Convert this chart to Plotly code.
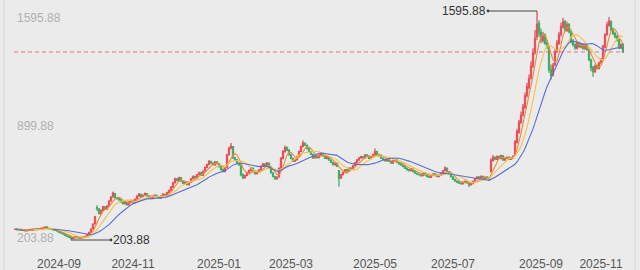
import pandas as pd
import plotly.graph_objects as go

# ---------------- data ----------------
closed_days = ['2024-09-16', '2024-09-17', '2024-10-01', '2024-10-02', '2024-10-03', '2024-10-04', '2024-10-07',
               '2025-01-01', '2025-01-28', '2025-01-29', '2025-01-30', '2025-01-31', '2025-02-03', '2025-02-04',
               '2025-04-04', '2025-05-01', '2025-05-02', '2025-05-05', '2025-06-02',
               '2025-10-01', '2025-10-02', '2025-10-03', '2025-10-06', '2025-10-07', '2025-10-08',
               '2025-10-09', '2025-10-10', '2025-10-13', '2025-10-14', '2025-10-15', '2025-10-16',
               '2025-10-17', '2025-10-20', '2025-10-21']
first_day = '2024-08-01'
last_day = '2025-11-18'

close = [
    270, 266, 268, 262, 265, 260, 263, 267, 264, 270, 268, 272, 269, 274, 278, 282, 276, 272, 268, 265, 262, 258,
    250, 246, 240, 232, 226, 220, 214, 218, 222, 219, 216, 220, 223, 226, 236, 250, 270, 300, 345,
    395, 365, 385, 405, 392, 410, 440, 465, 488, 462, 455, 448, 435, 425, 432, 418, 436, 442,
    430, 452, 470, 482, 466, 475, 486, 472, 460, 456, 470, 476, 466, 460, 470, 482, 476, 492, 505, 525, 550,
    575, 566, 582, 562, 548, 552, 540, 556, 575, 590, 582, 600, 612, 598, 622, 645, 662, 680, 672, 662, 678, 668,
    650, 632, 620, 640, 722, 760, 775, 702, 690, 672, 660, 600, 582, 596, 612, 625, 640, 622,
    606, 616, 630, 652, 666, 655, 672, 646, 612, 590, 575, 586, 640, 700, 742, 765, 750, 722,
    700, 682, 690, 712, 742, 772, 792, 780, 760, 742, 725, 702, 716, 705, 720, 730, 716, 700, 710, 690, 676,
    662, 670, 652, 580, 600, 615, 630, 624, 640, 636, 655, 672, 690, 702, 710, 704, 720, 715, 700, 710, 724,
    740, 722, 716, 702, 692, 686, 696, 682, 672, 686, 690, 676, 666, 660, 650, 640, 630, 626, 636,
    620, 610, 605, 600, 594, 610, 600, 590, 585, 596, 606, 600, 590, 596, 612, 626, 640, 620, 606, 588,
    572, 562, 556, 550, 546, 556, 560, 550, 540, 546, 560, 576, 586, 580, 590, 576, 586, 580, 570, 690, 705, 695, 710,
    700, 716, 690, 700, 706, 695, 702, 712, 800, 862, 920, 962, 1012, 1080, 1135, 1185, 1260, 1340, 1430, 1515, 1462,
    1420, 1445, 1400, 1380, 1240, 1205, 1265, 1350, 1400, 1452, 1500, 1530, 1480, 1512, 1470, 1410, 1392, 1372, 1402, 1380, 1390, 1370,
    1385, 1362, 1300, 1250, 1228, 1262, 1250, 1280,
    1300, 1380, 1450, 1510, 1532, 1482, 1460, 1440, 1420, 1376, 1392, 1347,
]
open_ = [
    268, 271, 265, 269, 262, 266, 259, 262, 268, 263, 271, 267, 273, 268, 273, 277, 283, 275, 273, 267, 266, 263,
    256, 250, 247, 241, 233, 227, 221, 213, 217, 223, 218, 215, 219, 222, 227, 238, 252, 272, 302,
    400, 392, 362, 383, 404, 390, 412, 442, 466, 486, 460, 457, 449, 436, 423, 433, 417, 434,
    443, 431, 454, 471, 481, 467, 476, 485, 471, 461, 455, 471, 475, 465, 459, 471, 481, 475, 493, 506, 526,
    552, 576, 565, 583, 561, 547, 553, 539, 557, 576, 591, 581, 601, 613, 597, 623, 646, 663, 681, 671, 661, 679,
    667, 651, 633, 619, 645, 724, 762, 772, 703, 689, 671, 659, 601, 583, 597, 613, 626, 641,
    621, 607, 615, 631, 653, 667, 654, 671, 645, 611, 589, 576, 588, 641, 698, 740, 766, 751,
    721, 699, 683, 691, 713, 743, 773, 793, 779, 759, 741, 724, 703, 715, 704, 721, 731, 715, 699, 709, 689,
    675, 661, 669, 625, 582, 601, 616, 631, 623, 641, 635, 656, 673, 691, 703, 711, 703, 721, 714, 699, 711,
    725, 741, 721, 717, 701, 693, 685, 697, 681, 671, 687, 691, 675, 667, 659, 651, 639, 631, 625,
    635, 621, 609, 604, 599, 595, 611, 599, 591, 584, 597, 607, 599, 589, 597, 613, 627, 641, 619, 605,
    587, 573, 561, 557, 549, 545, 557, 561, 549, 539, 547, 561, 577, 587, 579, 591, 575, 587, 579, 620, 688, 706, 694,
    711, 699, 715, 689, 701, 707, 694, 703, 720, 798, 860, 918, 965, 1010, 1082, 1130, 1190, 1262, 1345, 1440, 1520,
    1465, 1418, 1448, 1402, 1370, 1238, 1210, 1270, 1352, 1398, 1455, 1498, 1532, 1478, 1515, 1468, 1412, 1390, 1370, 1404, 1378, 1392,
    1368, 1388, 1360, 1298, 1252, 1226, 1264, 1248,
    1282, 1302, 1378, 1452, 1508, 1530, 1484, 1458, 1442, 1418, 1374, 1394,
]
high = [
    274, 273, 271, 270, 268, 267, 265, 270, 270, 273, 273, 275, 275, 277, 281, 287, 285, 278, 275, 270, 268, 265,
    258, 253, 249, 243, 235, 229, 223, 220, 225, 226, 222, 223, 226, 229, 239, 254, 276, 305, 352,
    415, 398, 390, 412, 410, 415, 446, 472, 498, 490, 466, 460, 452, 440, 437, 436, 440, 450,
    448, 456, 476, 490, 484, 480, 492, 488, 475, 465, 474, 482, 478, 468, 474, 488, 485, 497, 510, 532, 558,
    582, 580, 588, 586, 564, 558, 556, 560, 580, 596, 594, 605, 618, 616, 626, 650, 668, 690, 684, 675, 684, 682,
    672, 656, 638, 645, 728, 770, 793, 776, 708, 696, 676, 662, 608, 600, 618, 632, 648, 644,
    626, 620, 634, 658, 672, 670, 678, 674, 648, 615, 594, 590, 645, 708, 750, 778, 770, 754,
    726, 705, 694, 716, 748, 778, 808, 796, 784, 762, 745, 728, 720, 718, 725, 736, 734, 720, 714, 712, 692,
    680, 674, 672, 630, 606, 620, 635, 636, 645, 646, 660, 678, 696, 708, 716, 714, 726, 724, 718, 714, 728,
    760, 746, 728, 722, 706, 698, 702, 700, 686, 692, 695, 694, 680, 672, 664, 656, 644, 636, 641,
    638, 626, 614, 608, 602, 614, 614, 602, 594, 600, 610, 610, 602, 600, 616, 630, 650, 644, 624, 608,
    590, 576, 566, 560, 553, 560, 566, 562, 552, 550, 564, 580, 592, 590, 596, 594, 590, 590, 584, 700, 720, 712, 718,
    718, 722, 720, 706, 712, 712, 708, 718, 812, 880, 935, 985, 1030, 1100, 1160, 1210, 1290, 1370, 1480, 1595.88, 1540,
    1490, 1470, 1460, 1420, 1385, 1270, 1280, 1362, 1420, 1470, 1525, 1555, 1540, 1530, 1522, 1478, 1425, 1400, 1415, 1410, 1405, 1398,
    1400, 1395, 1365, 1305, 1262, 1270, 1270, 1288,
    1310, 1390, 1460, 1530, 1560, 1540, 1495, 1470, 1450, 1425, 1400, 1398,
]
low = [
    265, 264, 263, 260, 260, 258, 257, 260, 262, 261, 265, 265, 267, 266, 271, 275, 274, 270, 266, 262, 260, 255,
    248, 244, 238, 230, 224, 218, 203.88, 211, 215, 216, 213, 213, 217, 220, 225, 236, 249, 270, 300,
    380, 360, 358, 378, 386, 386, 408, 436, 460, 458, 450, 442, 430, 420, 420, 414, 414, 430,
    425, 428, 450, 468, 462, 463, 472, 468, 456, 452, 452, 466, 462, 455, 456, 468, 472, 472, 490, 502, 522,
    548, 560, 560, 558, 544, 543, 536, 536, 554, 572, 578, 578, 598, 594, 594, 620, 640, 658, 668, 656, 658, 664,
    645, 626, 615, 616, 640, 718, 755, 698, 684, 668, 655, 592, 575, 578, 592, 608, 620, 618,
    602, 602, 612, 628, 648, 650, 650, 642, 608, 585, 570, 572, 584, 636, 695, 735, 745, 718,
    695, 678, 678, 688, 710, 740, 768, 776, 756, 738, 720, 698, 700, 700, 700, 716, 712, 696, 696, 686, 672,
    656, 658, 648, 528, 575, 596, 612, 618, 620, 630, 632, 652, 670, 686, 698, 698, 700, 710, 696, 695, 706,
    720, 718, 712, 698, 688, 680, 682, 678, 668, 668, 684, 672, 662, 655, 646, 636, 626, 620, 622,
    616, 606, 600, 596, 590, 592, 596, 586, 580, 582, 594, 596, 586, 586, 594, 610, 622, 616, 602, 584,
    568, 558, 550, 545, 540, 542, 552, 546, 526, 535, 543, 558, 572, 576, 576, 572, 572, 576, 565, 615, 680, 688, 690,
    694, 695, 686, 685, 696, 690, 690, 700, 716, 790, 850, 910, 955, 1000, 1070, 1120, 1180, 1250, 1330, 1420, 1440,
    1400, 1405, 1390, 1365, 1220, 1178, 1198, 1262, 1340, 1390, 1440, 1490, 1470, 1470, 1460, 1400, 1380, 1360, 1362, 1372, 1370, 1360,
    1360, 1355, 1290, 1230, 1196, 1220, 1240, 1240,
    1275, 1295, 1370, 1445, 1500, 1475, 1450, 1430, 1410, 1365, 1368, 1340,
]
ma_windows = [5, 10, 20]
ma_colors = ['#ef8a3a', '#f4c24c', '#5b6dd2']

# ---------------- build ----------------
days = pd.bdate_range(first_day, last_day)
days = [d for d in days if d.strftime('%Y-%m-%d') not in set(closed_days)]
n = min(len(days), len(close), len(open_), len(high), len(low))
dates = [d.strftime('%Y-%m-%d') for d in days[:n]]
close, open_, high, low = close[:n], open_[:n], high[:n], low[:n]

df = pd.DataFrame({'date': dates, 'open': open_, 'high': high, 'low': low, 'close': close})

fig = go.Figure()
fig.add_trace(go.Candlestick(
    x=df['date'], open=df['open'], high=df['high'], low=df['low'], close=df['close'],
    increasing=dict(line=dict(color='#e8505b', width=1.3), fillcolor='#e8505b'),
    decreasing=dict(line=dict(color='#3fae68', width=1.3), fillcolor='#3fae68'),
    whiskerwidth=0, showlegend=False, hoverinfo='skip'))

for w, c in zip(ma_windows, ma_colors):
    ma = df['close'].rolling(w).mean()
    fig.add_trace(go.Scatter(x=df['date'], y=ma, mode='lines', line=dict(color=c, width=1.1),
                             showlegend=False, hoverinfo='skip'))

ymin = float(df['low'].min())
ymax = float(df['high'].max())
ymid = (ymin + ymax) / 2
imin = int(df['low'].idxmin())
imax = int(df['high'].idxmax())
last_close = float(df['close'].iloc[-1])

# tick labels: first trading day of odd months
tickvals, ticktext = [], []
prev = None
for d in days[:n]:
    key = (d.year, d.month)
    if key != prev:
        if d.month % 2 == 1:
            tickvals.append(d.strftime('%Y-%m-%d'))
            ticktext.append(d.strftime('%Y-%m'))
        prev = key

font_family = 'Liberation Sans, Arial, sans-serif'
annotations = []
for val, shift in [(ymax, -6.5), (ymid, 0), (ymin, 2)]:
    annotations.append(dict(xref='paper', yref='y', x=0, y=val, xanchor='left', yanchor='middle',
                            xshift=1, yshift=shift, text=f'{val:.2f}', showarrow=False,
                            font=dict(size=12, color='#b0b0b0', family=font_family)))
# max / min markers
annotations.append(dict(x=dates[imax], y=ymax, text=f'{ymax:.2f}', showarrow=True, ax=-49, ay=0,
                        xanchor='right', arrowside='start', startarrowhead=6, startarrowsize=0.7,
                        arrowwidth=1, arrowcolor='#444', standoff=0, startstandoff=0,
                        font=dict(size=12, color='#333', family=font_family)))
annotations.append(dict(x=dates[imin], y=ymin, text=f'{ymin:.2f}', showarrow=True, ax=40, ay=0,
                        xanchor='left', arrowside='start', startarrowhead=6, startarrowsize=0.7,
                        arrowwidth=1, arrowcolor='#444', standoff=0, startstandoff=0,
                        font=dict(size=12, color='#333', family=font_family)))

H = 229.0
W = 610.0
shapes = [
    dict(type='line', xref='paper', yref='y', x0=0, x1=1, y0=last_close, y1=last_close,
         line=dict(color='rgba(226,96,108,0.85)', width=1, dash='4px,3px')),
    dict(type='line', xref='paper', yref='paper', x0=-10 / W, x1=-10 / W, y0=-30 / H, y1=1 + 11 / H,
         line=dict(color='#d3d3d3', width=1)),
    dict(type='line', xref='paper', yref='paper', x0=1 + 11 / W, x1=1 + 11 / W, y0=-30 / H, y1=1 + 11 / H,
         line=dict(color='#d3d3d3', width=1)),
]

fig.update_layout(
    width=640, height=270,
    margin=dict(l=14, r=16, t=11, b=30, autoexpand=False),
    paper_bgcolor='#ebebeb', plot_bgcolor='#ebebeb',
    annotations=annotations, shapes=shapes,
    font=dict(family=font_family, size=12, color='#555'),
    xaxis=dict(type='category', range=[-0.5, n - 0.5], rangeslider=dict(visible=False),
               tickmode='array', tickvals=tickvals, ticktext=ticktext, automargin=False,
               showgrid=False, zeroline=False, showline=False, ticks='',
               ticklabelstandoff=15, tickfont=dict(size=12, color='#555')),
    yaxis=dict(range=[ymin, ymax], showgrid=False, zeroline=False, showticklabels=False, ticks='',
               automargin=False),
)

fig.write_html('out.html')
